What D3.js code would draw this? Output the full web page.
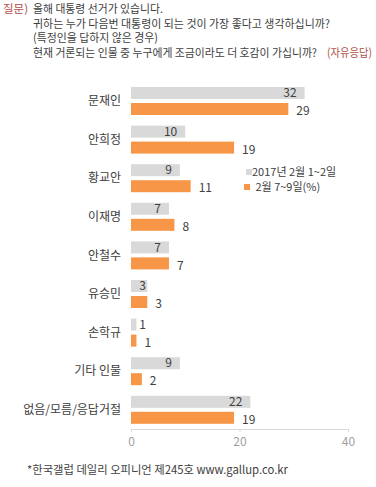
<!DOCTYPE html>
<html>
<head>
<meta charset="utf-8">
<script src="https://cdn.jsdelivr.net/npm/d3@7"></script>
<style>
    body { margin: 0; background: #fff; }
    svg text { font-family: "Noto Sans CJK KR", "Noto Sans", sans-serif; }
</style>
</head>
<body>
<div id="chart"></div>
<script>

// data
let candidates = ["문재인", "안희정", "황교안", "이재명", "안철수", "유승민", "손학규", "기타 인물", "없음/모름/응답거절"];
let prevValues = [32, 10, 9, 7, 7, 3, 1, 9, 22];
let currValues = [29, 19, 11, 8, 7, 3, 1, 2, 19];
let seriesNames = ["2017년 2월 1~2일", " 2월 7~9일(%)"];
let xTicks = [0, 20, 40];

let questionLines = [
    "올해 대통령 선거가 있습니다.",
    "귀하는 누가 다음번 대통령이 되는 것이 가장 좋다고 생각하십니까?",
    "(특정인을 답하지 않은 경우)",
    "현재 거론되는 인물 중 누구에게 조금이라도 더 호감이 가십니까?"
];
// widths of the header lines in the reference (px)
let questionWidths = [130, 297, 125, 284];
let footnote = "*한국갤럽 데일리 오피니언 제245호 www.gallup.co.kr";

let gray = "#d9d9d9";
let orange = "#f79646";
let textColor = "#404040";
let red = "#b0504a";

let width = 376, height = 487;

let svg = d3.select("#chart").append("svg")
    .attr("width", width)
    .attr("height", height);

// question header
let header = svg.append("g").attr("class", "header");
header.append("text")
    .attr("x", 3).attr("y", 13)
    .attr("fill", red)
    .attr("font-size", 11.5)
    .text("질문)");
questionLines.forEach((line, i) => {
    header.append("text")
        .attr("x", 33).attr("y", 13 + i * 14.5)
        .attr("fill", textColor)
        .attr("font-size", 11.5)
        .attr("textLength", questionWidths[i])
        .attr("lengthAdjust", "spacingAndGlyphs")
        .text(line);
});
header.append("text")
    .attr("x", 327).attr("y", 13 + 3 * 14.5)
    .attr("fill", red)
    .attr("font-size", 11.5)
    .attr("textLength", 45)
    .attr("lengthAdjust", "spacingAndGlyphs")
    .text("(자유응답)");

// scales
let x = d3.scaleLinear()
    .domain([0, 40])
    .range([131, 348]);

let y = d3.scaleBand()
    .domain(candidates)
    .range([84, 84 + 38.6 * candidates.length]);

let y1 = d3.scaleBand()
    .domain(["prev", "curr"])
    .range([3, 31])
    .paddingInner(0.25);

let rows = candidates.map((c, i) => ({name: c, prev: prevValues[i], curr: currValues[i]}));

let groups = svg.selectAll(".row")
    .data(rows)
    .enter()
    .append("g")
    .attr("class", "row")
    .attr("transform", d => `translate(0, ${y(d.name)})`);

// category labels
groups.append("text")
    .attr("x", 121)
    .attr("y", y1("prev") + 14)
    .attr("dy", "0.35em")
    .attr("text-anchor", "end")
    .attr("fill", textColor)
    .attr("font-size", 12)
    .text(d => d.name);

// previous survey bars
groups.append("rect")
    .attr("x", x(0))
    .attr("y", y1("prev"))
    .attr("width", d => x(d.prev) - x(0))
    .attr("height", y1.bandwidth())
    .attr("fill", gray);

groups.append("text")
    .attr("x", d => Math.max(x(d.prev) - 8, x(0) + 15))
    .attr("y", y1("prev") + y1.bandwidth() / 2)
    .attr("dy", "0.35em")
    .attr("text-anchor", "end")
    .attr("fill", textColor)
    .attr("font-size", 12)
    .text(d => d.prev);

// current survey bars
groups.append("rect")
    .attr("x", x(0))
    .attr("y", y1("curr"))
    .attr("width", d => x(d.curr) - x(0))
    .attr("height", y1.bandwidth())
    .attr("fill", orange);

groups.append("text")
    .attr("x", d => x(d.curr) + 8)
    .attr("y", y1("curr") + y1.bandwidth() / 2 + 2)
    .attr("dy", "0.35em")
    .attr("fill", textColor)
    .attr("font-size", 12)
    .text(d => d.curr);

// x axis
let axisY = 429;
let xAxis = svg.append("g")
    .attr("class", "x-axis")
    .attr("transform", `translate(0, ${axisY})`)
    .call(d3.axisBottom(x).tickValues(xTicks).tickSize(3).tickSizeOuter(0));
xAxis.select(".domain").attr("stroke", gray);
xAxis.selectAll(".tick line").attr("stroke", gray);
xAxis.selectAll(".tick text")
    .attr("fill", "#a0a0a0")
    .attr("font-size", 12)
    .attr("y", 8);

// legend
let legend = svg.append("g").attr("class", "legend");
let legendItems = [
    {name: seriesNames[0], color: gray, sx: 246, tx: 252, y: 172},
    {name: seriesNames[1], color: orange, sx: 244, tx: 253, y: 187}
];
legendItems.forEach(item => {
    legend.append("rect")
        .attr("x", item.sx).attr("y", item.y - 3)
        .attr("width", 6).attr("height", 6)
        .attr("fill", item.color);
    legend.append("text")
        .attr("x", item.tx).attr("y", item.y)
        .attr("dy", "0.35em")
        .attr("fill", textColor)
        .attr("font-size", 11)
        .attr("xml:space", "preserve")
        .style("white-space", "pre")
        .text(item.name);
});

// footnote
svg.append("text")
    .attr("x", 27).attr("y", 474)
    .attr("fill", textColor)
    .attr("font-size", 11.5)
    .attr("textLength", 261)
    .attr("lengthAdjust", "spacingAndGlyphs")
    .text(footnote);

</script>
</body>
</html>
